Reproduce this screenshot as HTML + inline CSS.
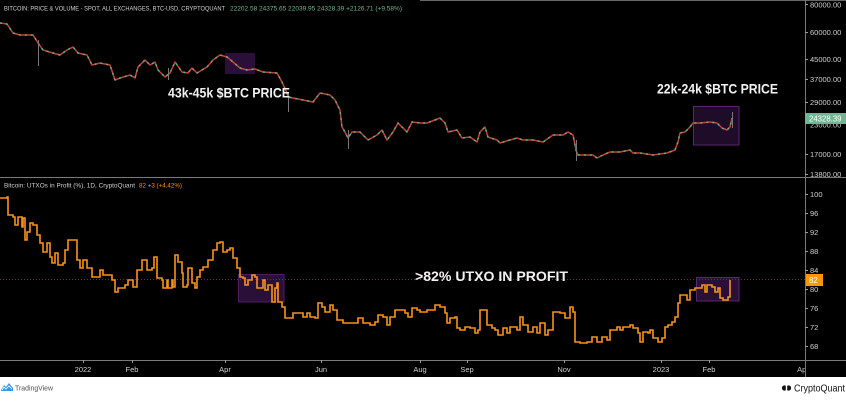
<!DOCTYPE html>
<html>
<head>
<meta charset="utf-8">
<style>
html,body{margin:0;padding:0;background:#000;}
body{width:846px;height:401px;overflow:hidden;}
svg{display:block;}
text{font-family:"Liberation Sans",sans-serif;}
</style>
</head>
<body>
<svg width="846" height="401" viewBox="0 0 846 401" xmlns="http://www.w3.org/2000/svg">
<defs>
  <clipPath id="plot"><rect x="0" y="0" width="805" height="377"/></clipPath>
</defs>
<rect x="0" y="0" width="846" height="377" fill="#000"/>

<!-- highlight boxes -->
<rect x="225" y="53" width="30" height="21" fill="#2a1038"/>
<rect x="693.5" y="106.5" width="45.5" height="38.5" fill="#1e0c28" stroke="#5a2670" stroke-width="1"/>
<rect x="238.5" y="274.5" width="45.5" height="27.5" fill="#2a1038" stroke="#4c2060" stroke-width="1"/>
<rect x="696.5" y="277.5" width="42.5" height="23.5" fill="#2a1038" stroke="#5a2670" stroke-width="1"/>

<!-- dotted last value line lower pane -->
<line x1="0" y1="279.5" x2="805" y2="279.5" stroke="#6b3a1e" stroke-width="1" stroke-dasharray="1 2"/>

<!-- price candles approximation -->
<g clip-path="url(#plot)" fill="none" stroke-linejoin="round">
<polyline stroke="#c8412f" stroke-width="1.5" points="0,23 7,24 13,33 20,35 33,35 38,43 43,50 53,53 60,55 67,50 73,47 78,53 87,55 92,65 100,63 110,65 115,80 120,78 130,75 135,78 138,67 145,60 150,65 155,62 158,70 165,77 170,73 175,62 182,72 188,73 192,68 197,73 207,67 213,60 220,55 227,57 233,62 240,68 247,70 255,69 263,72 277,73 282,82 287,93 288,97 293,98 303,100 313,102 320,93 330,95 335,100 340,110 342,127 345,132 348,138 352,132 360,132 368,140 377,135 382,130 387,140 393,132 398,123 407,132 412,122 420,123 427,123 435,120 440,118 445,123 448,132 457,130 462,138 470,137 477,142 480,132 485,127 488,137 497,140 500,143 510,140 517,138 523,140 533,140 543,142 553,135 563,135 568,132 573,135 576,150 578,155 583,155 593,155 597,158 603,155 610,152 620,152 630,150 633,153 640,153 653,155 667,153 675,150 678,142 680,133 685,132 690,127 693,123 700,123 710,122 717,123 722,128 727,130 730,127 732,118"/>
<polyline stroke="#5fae8c" stroke-width="1.5" stroke-dasharray="2 4" points="0,23 7,24 13,33 20,35 33,35 38,43 43,50 53,53 60,55 67,50 73,47 78,53 87,55 92,65 100,63 110,65 115,80 120,78 130,75 135,78 138,67 145,60 150,65 155,62 158,70 165,77 170,73 175,62 182,72 188,73 192,68 197,73 207,67 213,60 220,55 227,57 233,62 240,68 247,70 255,69 263,72 277,73 282,82 287,93 288,97 293,98 303,100 313,102 320,93 330,95 335,100 340,110 342,127 345,132 348,138 352,132 360,132 368,140 377,135 382,130 387,140 393,132 398,123 407,132 412,122 420,123 427,123 435,120 440,118 445,123 448,132 457,130 462,138 470,137 477,142 480,132 485,127 488,137 497,140 500,143 510,140 517,138 523,140 533,140 543,142 553,135 563,135 568,132 573,135 576,150 578,155 583,155 593,155 597,158 603,155 610,152 620,152 630,150 633,153 640,153 653,155 667,153 675,150 678,142 680,133 685,132 690,127 693,123 700,123 710,122 717,123 722,128 727,130 730,127 732,118"/>
<g stroke="#777" stroke-width="1">
<line x1="38.5" y1="40" x2="38.5" y2="66"/>
<line x1="288.5" y1="92" x2="288.5" y2="112"/>
<line x1="348.5" y1="130" x2="348.5" y2="149"/>
<line x1="576.5" y1="140" x2="576.5" y2="161"/>
<line x1="168.5" y1="68" x2="168.5" y2="80"/>
<line x1="732.5" y1="112" x2="732.5" y2="128"/>
</g>
</g>

<!-- UTXO line -->
<path clip-path="url(#plot)" fill="none" stroke="#f7931a" stroke-width="1.6" stroke-linejoin="miter" d="M0 198 H7V197 H8V215 H13V217 H15V225 H18V217 H22V227 H23V218 H25V240 H27V232 H30V223 H33V225 H37V235 H40V243 H43V252 H47V243 H50V257 H52V263 H55V253 H58V265 H63V263 H65V250 H68V240 H75V240 H77V260 H80V268 H83V260 H87V268 H92V277 H97V277 H100V270 H103V275 H108V275 H112V280 H115V292 H118V288 H125V285 H128V280 H133V287 H137V270 H142V260 H145V260 H147V270 H152V268 H154V257 H157V278 H162V280 H163V288 H167V280 H168V288 H172V280 H173V287 H175V255 H178V262 H182V273 H183V287 H187V285 H188V268 H192V283 H195V288 H197V277 H200V270 H203V267 H208V260 H213V250 H217V243 H220V242 H223V252 H227V250 H230V248 H233V258 H237V268 H240V277 H243V278 H245V285 H248V280 H252V275 H255V277 H257V288 H263V280 H265V290 H268V285 H272V302 H275V288 H277V283 H278V302 H282V307 H285V318 H292V318 H293V313 H300V313 H303V317 H307V313 H310V317 H315V318 H318V303 H322V307 H325V312 H330V305 H333V310 H337V320 H343V323 H350V323 H358V318 H363V323 H370V325 H375V322 H378V315 H383V317 H387V325 H390V317 H395V310 H400V310 H405V313 H408V317 H412V308 H417V310 H420V312 H427V310 H435V305 H440V307 H445V313 H447V323 H450V318 H455V317 H457V328 H460V330 H465V327 H470V328 H475V333 H478V330 H480V310 H485V310 H487V325 H492V328 H495V330 H498V335 H503V328 H507V333 H510V327 H517V330 H520V317 H523V325 H528V332 H533V327 H537V333 H540V323 H545V335 H548V330 H553V312 H560V313 H565V318 H570V307 H573V312 H575V342 H580V343 H587V342 H592V337 H597V342 H602V337 H607V340 H610V330 H617V327 H620V330 H623V327 H630V325 H633V328 H638V333 H640V342 H643V332 H648V333 H650V330 H653V338 H658V342 H662V338 H665V327 H668V325 H672V322 H675V317 H678V303 H680V295 H685V295 H687V300 H690V290 H695V288 H698V288 H702V285 H705V292 H707V285 H712V287 H715V292 H718V288 H720V298 H723V300 H728V297 H730V280"/>

<!-- frame lines -->
<line x1="420" y1="0.5" x2="846" y2="0.5" stroke="#666" stroke-width="1"/>
<line x1="0" y1="177.5" x2="846" y2="177.5" stroke="#7a7a7a" stroke-width="1"/>
<line x1="0" y1="360.5" x2="846" y2="360.5" stroke="#7a7a7a" stroke-width="1"/>
<line x1="805.5" y1="0" x2="805.5" y2="377" stroke="#7a7a7a" stroke-width="1"/>

<!-- right axis ticks -->
<g stroke="#9a9a9a" stroke-width="1">
<line x1="805" y1="4.5" x2="808" y2="4.5"/>
<line x1="805" y1="32.5" x2="808" y2="32.5"/>
<line x1="805" y1="59.5" x2="808" y2="59.5"/>
<line x1="805" y1="79.5" x2="808" y2="79.5"/>
<line x1="805" y1="102.5" x2="808" y2="102.5"/>
<line x1="805" y1="154.5" x2="808" y2="154.5"/>
<line x1="805" y1="174.5" x2="808" y2="174.5"/>
<line x1="805" y1="194.5" x2="808" y2="194.5"/>
<line x1="805" y1="213.5" x2="808" y2="213.5"/>
<line x1="805" y1="232.5" x2="808" y2="232.5"/>
<line x1="805" y1="251.5" x2="808" y2="251.5"/>
<line x1="805" y1="270.5" x2="808" y2="270.5"/>
<line x1="805" y1="289.5" x2="808" y2="289.5"/>
<line x1="805" y1="308.5" x2="808" y2="308.5"/>
<line x1="805" y1="327.5" x2="808" y2="327.5"/>
<line x1="805" y1="346.5" x2="808" y2="346.5"/>
</g>

<!-- right axis labels -->
<g font-size="7.5" fill="#cfcfcf">
<text x="810" y="7.3">80000.00</text>
<text x="810" y="35">60000.00</text>
<text x="810" y="62.2">45000.00</text>
<text x="810" y="82">37000.00</text>
<text x="810" y="105">29000.00</text>
<text x="810" y="127.5">23000.00</text>
<text x="810" y="157">17000.00</text>
<text x="810" y="177">13800.00</text>
<text x="810" y="197">100</text>
<text x="810" y="216">96</text>
<text x="810" y="235">92</text>
<text x="810" y="254">88</text>
<text x="810" y="273">84</text>
<text x="810" y="292">80</text>
<text x="810" y="311">76</text>
<text x="810" y="330">72</text>
<text x="810" y="349">68</text>
</g>
<!-- last value boxes -->
<rect x="805" y="113" width="41" height="11" fill="#6cb892"/>
<text x="809" y="121.5" font-size="7.8" fill="#fff">24328.39</text>
<rect x="806" y="274" width="17" height="12" fill="#ff9800"/>
<text x="809" y="283" font-size="7.8" fill="#fff">82</text>

<!-- bottom ticks -->
<g stroke="#9a9a9a" stroke-width="1">
<line x1="83.5" y1="360" x2="83.5" y2="363"/>
<line x1="132.5" y1="360" x2="132.5" y2="363"/>
<line x1="225.5" y1="360" x2="225.5" y2="363"/>
<line x1="321.5" y1="360" x2="321.5" y2="363"/>
<line x1="420.5" y1="360" x2="420.5" y2="363"/>
<line x1="467.5" y1="360" x2="467.5" y2="363"/>
<line x1="564.5" y1="360" x2="564.5" y2="363"/>
<line x1="661.5" y1="360" x2="661.5" y2="363"/>
<line x1="709.5" y1="360" x2="709.5" y2="363"/>
</g>
<g font-size="7.5" fill="#cfcfcf" text-anchor="middle" clip-path="url(#plot)">
<text x="83" y="372">2022</text>
<text x="132" y="372">Feb</text>
<text x="225" y="372">Apr</text>
<text x="321" y="372">Jun</text>
<text x="420" y="372">Aug</text>
<text x="467" y="372">Sep</text>
<text x="564" y="372">Nov</text>
<text x="661" y="372">2023</text>
<text x="709" y="372">Feb</text>
<text x="803" y="372">Apr</text>
</g>

<!-- legends -->
<text x="4" y="10.5" font-size="6.5" fill="#d0d0d0" textLength="221" lengthAdjust="spacingAndGlyphs">BITCOIN: PRICE &amp; VOLUME - SPOT, ALL EXCHANGES, BTC-USD, CRYPTOQUANT</text>
<text x="230" y="10.5" font-size="6.5" fill="#6fb890" textLength="172" lengthAdjust="spacingAndGlyphs">22202.58  24375.65  22039.95  24328.39  +2126.71 (+9.58%)</text>
<text x="4" y="187.5" font-size="6.5" fill="#d0d0d0" textLength="131" lengthAdjust="spacingAndGlyphs">Bitcoin: UTXOs in Profit (%), 1D, CryptoQuant</text>
<text x="139" y="187.5" font-size="6.5" fill="#ff9800" textLength="43" lengthAdjust="spacingAndGlyphs">82  +3 (+4.42%)</text>

<!-- annotations -->
<g font-size="14" font-weight="bold" fill="#f2f2f2">
<text x="168" y="97.5" textLength="122" lengthAdjust="spacingAndGlyphs">43k-45k $BTC PRICE</text>
<text x="657" y="93.5" textLength="121" lengthAdjust="spacingAndGlyphs">22k-24k $BTC PRICE</text>
<text x="415" y="281" textLength="153" lengthAdjust="spacingAndGlyphs">&gt;82% UTXO IN PROFIT</text>
</g>

<!-- footer -->
<rect x="0" y="377" width="846" height="24" fill="#fff"/>
<path d="M1,390 L4,385 L6,387 L9,383 L13,388 L13,391 L1,391 Z" fill="#2f9bf0"/>
<path d="M2,390 L4,387 L6,389 L9,386 L12,389" fill="none" stroke="#fff" stroke-width="0.8"/>
<text x="15" y="390.5" font-size="7.5" fill="#505050" textLength="38" lengthAdjust="spacingAndGlyphs">TradingView</text>
<circle cx="784.5" cy="388" r="2.6" fill="#111"/>
<circle cx="788.5" cy="388" r="2.6" fill="#111"/>
<rect x="785.8" y="385" width="1.4" height="6" fill="#fff"/>
<text x="794" y="391.5" font-size="10" fill="#111" textLength="51" lengthAdjust="spacingAndGlyphs">CryptoQuant</text>
</svg>
</body>
</html>
